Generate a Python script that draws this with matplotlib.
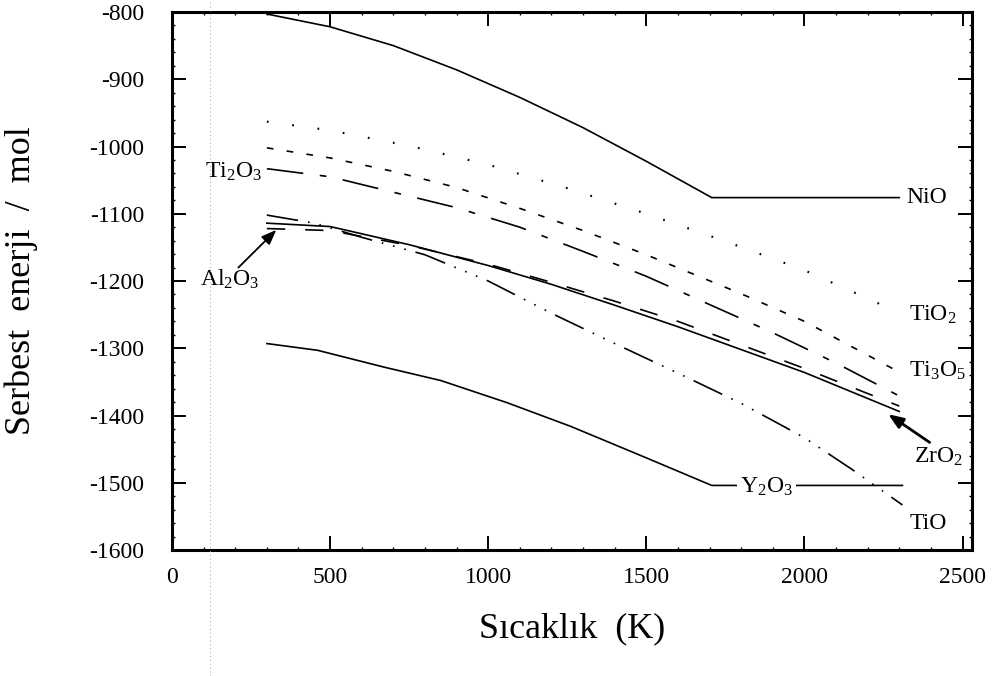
import matplotlib
matplotlib.use("Agg")
import matplotlib.pyplot as plt
from matplotlib.lines import Line2D
from matplotlib.ticker import MultipleLocator

plt.rcParams["font.family"] = ["Liberation Serif", "DejaVu Serif"]
plt.rcParams["mathtext.fontset"] = "custom"
plt.rcParams["mathtext.rm"] = "Liberation Serif"
plt.rcParams["mathtext.it"] = "Liberation Serif:italic"
plt.rcParams["axes.unicode_minus"] = False

# Values (temperature in K, energy per mol)
nio_t = [300, 500, 700, 900, 1100, 1300, 1500, 1707, 2300]
nio_g = [-803, -822, -850, -886, -927, -972, -1022, -1076, -1076]

tio2_t = [300, 500, 750, 1000, 1250, 1500, 1750, 2000, 2290]
tio2_g = [-963, -976, -999, -1027, -1062, -1100, -1141, -1184, -1245]

ti3o5_t = [300, 500, 700, 900, 1100, 1300, 1500, 1800, 2000, 2290]
ti3o5_g = [-1002, -1017, -1037, -1061, -1092, -1125, -1161, -1219, -1260, -1333]

ti2o3_t = [300, 500, 700, 900, 1100, 1300, 1500, 1700, 1900, 2100, 2300]
ti2o3_g = [-1033, -1045, -1068, -1091, -1120, -1156, -1193, -1235, -1277, -1322, -1371]

al2o3_t = [300, 500, 750, 1000, 1200, 1400, 1600, 1800, 2000, 2300]
al2o3_g = [-1114, -1119, -1146, -1177, -1205, -1236, -1268, -1302, -1336, -1394]

zro2_t = [300, 500, 750, 1000, 1200, 1400, 1600, 1800, 2000, 2300]
zro2_g = [-1122, -1125, -1147, -1175, -1202, -1230, -1260, -1295, -1330, -1386]

tio_t = [300, 450, 600, 800, 1000, 1200, 1400, 1600, 1800, 2000, 2150, 2310]
tio_g = [-1102, -1114, -1135, -1161, -1200, -1248, -1293, -1337, -1382, -1433, -1480, -1533]

y2o3_t = [300, 460, 670, 850, 1060, 1260, 1490, 1707, 2310]
y2o3_g = [-1293, -1303, -1328, -1348, -1381, -1416, -1461, -1504, -1504]

fig = plt.figure(figsize=(9.99, 6.76), dpi=100)
ax = fig.add_axes([172 / 999, 126 / 676, 800 / 999, 538 / 676])

lw = 1.2
ax.plot(nio_t, nio_g, color="black", lw=lw)
ax.plot(tio2_t, tio2_g, color="black", lw=lw * 1.3, linestyle=(0, (0.8, 11)))
ax.plot(ti3o5_t, ti3o5_g, color="black", lw=lw, linestyle=(0, (4, 8)))
ax.plot(ti2o3_t, ti2o3_g, color="black", lw=lw, linestyle=(0, (22, 10, 4, 10)))
ax.plot(al2o3_t, al2o3_g, color="black", lw=lw)
ax.plot(zro2_t, zro2_g, color="black", lw=lw, linestyle=(0, (11, 12)))
ax.plot(tio_t, tio_g, color="black", lw=lw,
        linestyle=(0, (19, 6, 1, 6, 1, 6, 1, 6)))
ax.plot(y2o3_t, y2o3_g, color="black", lw=lw)

ax.set_xlim(0, 2530)
ax.set_ylim(-1600, -800)
ax.xaxis.set_major_locator(MultipleLocator(500))
ax.xaxis.set_minor_locator(MultipleLocator(100))
ax.yaxis.set_major_locator(MultipleLocator(100))
ax.yaxis.set_minor_locator(MultipleLocator(20))
ax.tick_params(which="both", direction="in", top=True, right=True)
ax.tick_params(which="major", length=10, width=1.4, labelsize=17)
ax.tick_params(which="minor", length=2.5, width=1.0)
ax.tick_params(axis="y", pad=20)
ax.tick_params(axis="x", pad=12)
for sp in ax.spines.values():
    sp.set_linewidth(2.2)

ax.set_xlabel("Sıcaklık  (K)", fontsize=26)
ax.xaxis.set_label_coords(0.5, -0.115)
ax.set_ylabel("Serbest  enerji  /  mol", fontsize=26)
ax.yaxis.set_label_coords(-0.168, 0.5)

lab = dict(fontsize=17, color="black")
ax.text(2323, -1076, "NiO", va="center", ha="left", **lab)
ax.text(2332, -1250, "TiO$_2$", va="center", ha="left", **lab)
ax.text(2332, -1333, "Ti$_3$O$_5$", va="center", ha="left", **lab)
ax.text(2348, -1462, "ZrO$_2$", va="center", ha="left", **lab)
ax.text(2332, -1560, "TiO", va="center", ha="left", **lab)
ax.text(1880, -1506, "Y$_2$O$_3$", va="center", ha="center",
        bbox=dict(facecolor="white", edgecolor="none", pad=2), **lab)
ax.text(104, -1038, "Ti$_2$O$_3$", va="center", ha="left", **lab)
ax.text(88, -1198, "Al$_2$O$_3$", va="center", ha="left", **lab)

arrow = dict(arrowstyle="-|>,head_length=0.9,head_width=0.35", color="black",
             lw=1.3, shrinkA=0, shrinkB=0)
ax.annotate("", xy=(330, -1124), xytext=(210, -1180), arrowprops=arrow)
ax.annotate("", xy=(2265, -1398), xytext=(2396, -1440),
            arrowprops=dict(arrow, lw=2.0))

# faint fold line of the scanned page
fig.add_artist(Line2D([210 / 999, 210 / 999], [0, 1], transform=fig.transFigure,
                      color="0.65", lw=0.7, linestyle=(0, (1, 3))))

fig.savefig("out.png", dpi=100)
